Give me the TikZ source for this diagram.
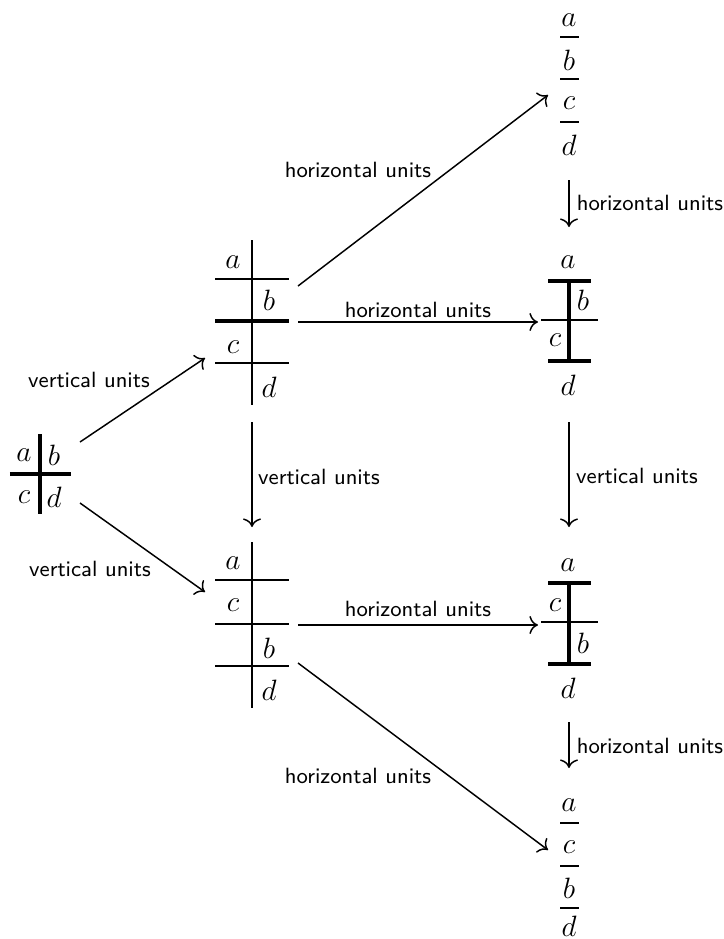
\documentclass[tikz,border=0pt]{standalone}
\usetikzlibrary{arrows.meta}
\begin{document}
\begin{tikzpicture}[x=0.408pt,y=-0.408pt,
  thinline/.style={line width=0.9pt},
  thickline/.style={line width=1.25pt},
  fracline/.style={line width=1.1pt},
  letter/.style={inner sep=0pt,font=\fontsize{11.5}{13}\selectfont},
  conn/.style={-{To[scale=1.2]},line width=0.6pt},
  lbl/.style={font=\sffamily\small,inner sep=0pt}]
\useasboundingbox (0,0) rectangle (723,939);

% ---- left grid
\draw[thickline] (40,434) -- (40,514);
\draw[thickline] (10,474) -- (71,474);
\node[letter] (L-a) at (24,455) {$a$};
\node[letter] (L-b) at (54,455) {$b$};
\node[letter] (L-c) at (24,497) {$c$};
\node[letter] (L-d) at (54,497) {$d$};

% ---- middle top grid
\draw[thinline] (252,240) -- (252,405);
\draw[thinline] (215,279) -- (289,279);
\draw[thickline] (215,321) -- (289,321);
\draw[thinline] (215,363) -- (289,363);
\node[letter] (MT-a) at (233,262) {$a$};
\node[letter] (MT-b) at (269,300) {$b$};
\node[letter] (MT-c) at (233,347) {$c$};
\node[letter] (MT-d) at (269,387) {$d$};

% ---- middle bottom grid
\draw[thinline] (252,542) -- (252,708);
\draw[thinline] (215,580) -- (289,580);
\draw[thinline] (215,624) -- (289,624);
\draw[thinline] (215,666) -- (289,666);
\node[letter] (MB-a) at (233,563) {$a$};
\node[letter] (MB-c) at (233,605) {$c$};
\node[letter] (MB-b) at (269,648) {$b$};
\node[letter] (MB-d) at (269,690) {$d$};

% ---- right upper grid
\draw[thickline] (548,281) -- (591,281);
\draw[thickline] (569,281) -- (569,361);
\draw[thinline] (541,320) -- (598,320);
\draw[thickline] (548,361) -- (591,361);
\node[letter] (RU-a) at (568,262) {$a$};
\node[letter] (RU-b) at (583,300) {$b$};
\node[letter] (RU-c) at (555,340) {$c$};
\node[letter] (RU-d) at (568,385) {$d$};

% ---- right lower grid
\draw[thickline] (548,583) -- (591,583);
\draw[thickline] (569,583) -- (569,664);
\draw[thinline] (541,622) -- (598,622);
\draw[thickline] (548,664) -- (591,664);
\node[letter] (RL-a) at (568,565) {$a$};
\node[letter] (RL-c) at (555,605) {$c$};
\node[letter] (RL-b) at (583,643) {$b$};
\node[letter] (RL-d) at (568,688) {$d$};

% ---- top right stack
\draw[fracline] (560,37) -- (579,37);
\draw[fracline] (560,79) -- (579,79);
\draw[fracline] (560,122) -- (579,122);
\node[letter] (TS-a) at (569,20) {$a$};
\node[letter] (TS-b) at (569,60) {$b$};
\node[letter] (TS-c) at (569,103) {$c$};
\node[letter] (TS-d) at (569,145) {$d$};

% ---- bottom right stack
\draw[fracline] (560,823) -- (579,823);
\draw[fracline] (560,866) -- (579,866);
\draw[fracline] (560,908) -- (579,908);
\node[letter] (BS-a) at (569,805) {$a$};
\node[letter] (BS-c) at (569,847) {$c$};
\node[letter] (BS-b) at (569,888) {$b$};
\node[letter] (BS-d) at (569,926) {$d$};

% ---- connector end points
\coordinate (L-out1) at (80,442);
\coordinate (L-out2) at (80,503);
\coordinate (MT-in) at (205,358);
\coordinate (MB-in) at (205,592);
\coordinate (MT-down) at (252,422);
\coordinate (MB-top) at (252,527);
\coordinate (MT-ur) at (298,286);
\coordinate (TS-in) at (548,95);
\coordinate (MT-r) at (298,322);
\coordinate (RU-in) at (538,322);
\coordinate (TS-down) at (569,180);
\coordinate (RU-top) at (569,227);
\coordinate (RU-down) at (569,422);
\coordinate (RL-top) at (569,527);
\coordinate (MB-r) at (298,625);
\coordinate (RL-in) at (538,625);
\coordinate (MB-dr) at (298,663);
\coordinate (BS-in) at (548,850);
\coordinate (RL-down) at (569,722);
\coordinate (BS-top) at (569,768);

% ---- connectors
\draw[conn] (L-out1) -- (MT-in);
\draw[conn] (L-out2) -- (MB-in);
\draw[conn] (MT-down) -- (MB-top);
\draw[conn] (MT-ur) -- (TS-in);
\draw[conn] (MT-r) -- (RU-in);
\draw[conn] (TS-down) -- (RU-top);
\draw[conn] (RU-down) -- (RL-top);
\draw[conn] (MB-r) -- (RL-in);
\draw[conn] (MB-dr) -- (BS-in);
\draw[conn] (RL-down) -- (BS-top);

% ---- labels
\node[lbl] (l1) at (89,380) {vertical units};
\node[lbl] (l2) at (90,569) {vertical units};
\node[lbl] (l3) at (319,477) {vertical units};
\node[lbl] (l4) at (358,170) {horizontal units};
\node[lbl] (l5) at (418,310) {horizontal units};
\node[lbl] (l6) at (650,203) {horizontal units};
\node[lbl] (l7) at (637,476) {vertical units};
\node[lbl] (l8) at (418,609) {horizontal units};
\node[lbl] (l9) at (358,776) {horizontal units};
\node[lbl] (l10) at (650,746) {horizontal units};
\end{tikzpicture}
\end{document}
